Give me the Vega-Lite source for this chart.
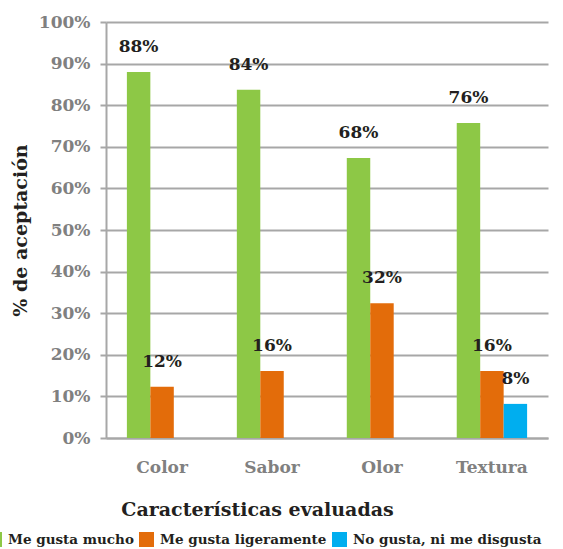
{
  "$schema": "https://vega.github.io/schema/vega-lite/v6.json",
  "width": 442,
  "height": 416,
  "autosize": {"type": "none"},
  "padding": {"left": 106, "top": 22, "right": 15, "bottom": 111},
  "background": "white",
  "config": {
    "view": {"stroke": null},
    "font": "DejaVu Serif",
    "axis": {"labelFont": "DejaVu Serif", "titleFont": "DejaVu Serif"},
    "legend": {"labelFont": "DejaVu Serif", "titleFont": "DejaVu Serif"},
    "text": {"font": "DejaVu Serif"}
  },
  "data": {
    "values": [
      {"caracteristica": "Color", "serie": "Me gusta mucho", "valor": 88, "etiqueta": "88%"},
      {"caracteristica": "Color", "serie": "Me gusta ligeramente", "valor": 12.3, "etiqueta": "12%"},
      {"caracteristica": "Sabor", "serie": "Me gusta mucho", "valor": 83.7, "etiqueta": "84%"},
      {"caracteristica": "Sabor", "serie": "Me gusta ligeramente", "valor": 16.1, "etiqueta": "16%"},
      {"caracteristica": "Olor", "serie": "Me gusta mucho", "valor": 67.3, "etiqueta": "68%"},
      {"caracteristica": "Olor", "serie": "Me gusta ligeramente", "valor": 32.4, "etiqueta": "32%"},
      {"caracteristica": "Textura", "serie": "Me gusta mucho", "valor": 75.7, "etiqueta": "76%"},
      {"caracteristica": "Textura", "serie": "Me gusta ligeramente", "valor": 16.1, "etiqueta": "16%"},
      {"caracteristica": "Textura", "serie": "No gusta, ni me disgusta", "valor": 8.2, "etiqueta": "8%"}
    ]
  },
  "encoding": {
    "x": {
      "field": "caracteristica",
      "type": "nominal",
      "sort": ["Color", "Sabor", "Olor", "Textura"],
      "scale": {"paddingInner": 0.36, "paddingOuter": 0.19},
      "title": "Características evaluadas",
      "axis": {
        "labelAngle": 0,
        "ticks": false,
        "domainColor": "#a7a7a7",
        "domainWidth": 2,
        "labelFontSize": 17,
        "labelFontWeight": "bold",
        "labelColor": "#808080",
        "labelPadding": 21,
        "titleFontSize": 19,
        "titleFontWeight": "bold",
        "titleColor": "#231f20",
        "titlePadding": 25,
        "titleX": 151
      }
    },
    "xOffset": {
      "field": "serie",
      "type": "nominal",
      "scale": {"domain": ["Me gusta mucho", "Me gusta ligeramente", "No gusta, ni me disgusta"]}
    },
    "y": {
      "field": "valor",
      "type": "quantitative",
      "scale": {"domain": [0, 100]},
      "title": "% de aceptación",
      "axis": {
        "values": [0, 10, 20, 30, 40, 50, 60, 70, 80, 90, 100],
        "labelExpr": "datum.value + '%'",
        "grid": true,
        "gridColor": "#a7a7a7",
        "gridWidth": 2,
        "domainColor": "#a7a7a7",
        "domainWidth": 2,
        "tickColor": "#a7a7a7",
        "tickWidth": 2,
        "tickSize": 6,
        "labelFontSize": 17,
        "labelFontWeight": "bold",
        "labelColor": "#808080",
        "labelPadding": 10,
        "titleFontSize": 19,
        "titleFontWeight": "bold",
        "titleColor": "#231f20",
        "titlePadding": 8
      }
    }
  },
  "layer": [
    {
      "mark": {"type": "bar"},
      "encoding": {
        "color": {
          "field": "serie",
          "type": "nominal",
          "scale": {
            "domain": ["Me gusta mucho", "Me gusta ligeramente", "No gusta, ni me disgusta"],
            "range": ["#8dc846", "#e36c0a", "#00aeef"]
          },
          "legend": {
            "title": null,
            "orient": "none",
            "direction": "horizontal",
            "legendX": -119,
            "legendY": 510,
            "symbolType": "square",
            "symbolSize": 225,
            "symbolStrokeWidth": 0,
            "labelFontSize": 13.5,
            "labelFontWeight": "bold",
            "labelColor": "#231f20",
            "labelOffset": 6,
            "columnPadding": 5,
            "labelLimit": 300
          }
        }
      }
    },
    {
      "mark": {"type": "text", "baseline": "middle", "dy": -25, "fontSize": 17, "fontWeight": "bold", "color": "#231f20"},
      "encoding": {"text": {"field": "etiqueta"}}
    }
  ]
}
